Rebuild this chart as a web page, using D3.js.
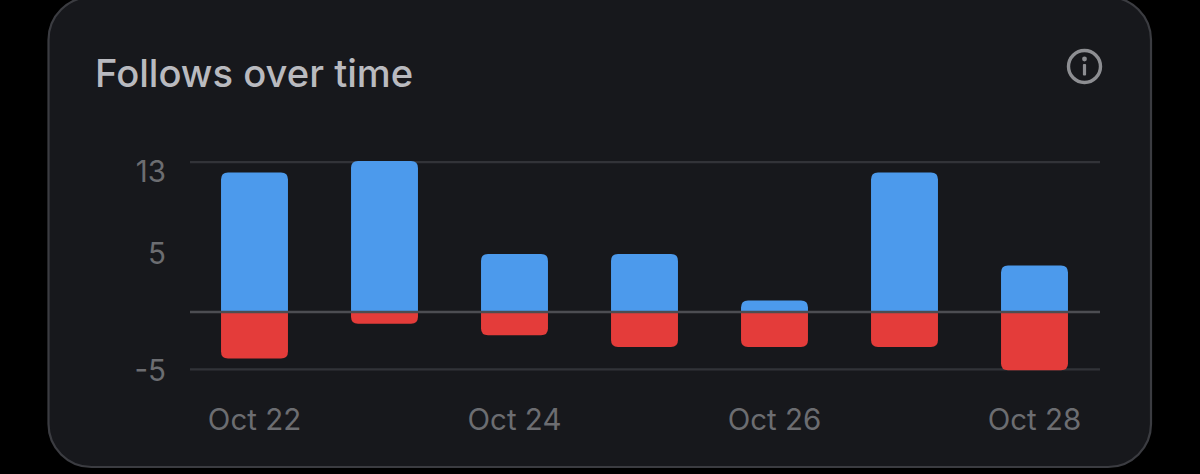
<!DOCTYPE html>
<html><head><meta charset="utf-8">
<script src="https://cdn.jsdelivr.net/npm/d3@7/dist/d3.min.js"></script>
<style>html,body{margin:0;padding:0;background:#000;overflow:hidden}svg{display:block}text{font-family:Inter,sans-serif}</style>
</head><body><svg id="c" width="1200" height="474"></svg>
<script>
const days = ["Oct 22","Oct 23","Oct 24","Oct 25","Oct 26","Oct 27","Oct 28"];
const follows = [12,13,5,5,1,12,4];
const unfollows = [-4,-1,-2,-3,-3,-3,-5];
const xLabels = ["Oct 22","Oct 24","Oct 26","Oct 28"];
const yTicks = [13,5,-5];
const gridLines = [13,-5];

const svg = d3.select("#c");
svg.append("rect").attr("width",1200).attr("height",474).attr("fill","#000");
svg.append("rect").attr("x",48.5).attr("y",-3).attr("width",1102.5).attr("height",470).attr("rx",43)
  .attr("fill","#17181c").attr("stroke","#3b3c41").attr("stroke-width",2.2);

const x = d3.scaleBand().domain(days).range([189.5,1099.5]).paddingInner(0.485).paddingOuter(0.2425);
const y = d3.scaleLinear().domain([-5,13]).range([370.2,160.9]);

svg.append("text").attr("x",95).attr("y",87).attr("fill","#b9babf").attr("font-size",38.2).attr("font-weight",500).text("Follows over time");

// info icon
const info = svg.append("g").attr("transform","translate(1084.5,66.5)");
info.append("circle").attr("r",16).attr("fill","none").attr("stroke","#8d8e92").attr("stroke-width",3.4);
info.append("circle").attr("cy",-7.5).attr("r",2.4).attr("fill","#8d8e92");
info.append("rect").attr("x",-1.6).attr("y",-2.5).attr("width",3.2).attr("height",11.5).attr("rx",1).attr("fill","#8d8e92");

svg.append("g").selectAll("line").data(gridLines).join("line")
  .attr("x1",190).attr("x2",1100).attr("y1",d=>y(d)+(d>0?1.2:-0.8)).attr("y2",d=>y(d)+(d>0?1.2:-0.8))
  .attr("stroke","#323338").attr("stroke-width",2.2);

function bar(g,vals,color,up){
  const r=7;
  g.selectAll("path").data(vals).join("path").attr("fill",color).attr("d",(v,i)=>{
    const x0=x(days[i]),x1=x0+x.bandwidth(),y0=y(0),yv=y(v);
    const p=d3.path();
    const s=up?1:-1;
    p.moveTo(x0,y0);p.lineTo(x0,yv+s*r);
    p.quadraticCurveTo(x0,yv,x0+r,yv);
    p.lineTo(x1-r,yv);
    p.quadraticCurveTo(x1,yv,x1,yv+s*r);
    p.lineTo(x1,y0);p.closePath();
    return p.toString();
  });
}
bar(svg.append("g"),follows,"#4c9aec",true);
bar(svg.append("g"),unfollows,"#e43c3a",false);

svg.append("line").attr("x1",190).attr("x2",1100).attr("y1",y(0)).attr("y2",y(0)).attr("stroke","#4c4d52").attr("stroke-width",2.6);

svg.append("g").selectAll("text").data(yTicks).join("text")
  .attr("x",166).attr("y",d=>d===13?182:y(d)+10.5).attr("text-anchor","end")
  .attr("fill","#6c6d71").attr("font-size",29.5).text(d=>d);

svg.append("g").selectAll("text").data(xLabels).join("text")
  .attr("x",d=>x(d)+x.bandwidth()/2).attr("y",430).attr("text-anchor","middle")
  .attr("fill","#6c6d71").attr("font-size",29.5).text(d=>d);
</script></body></html>
